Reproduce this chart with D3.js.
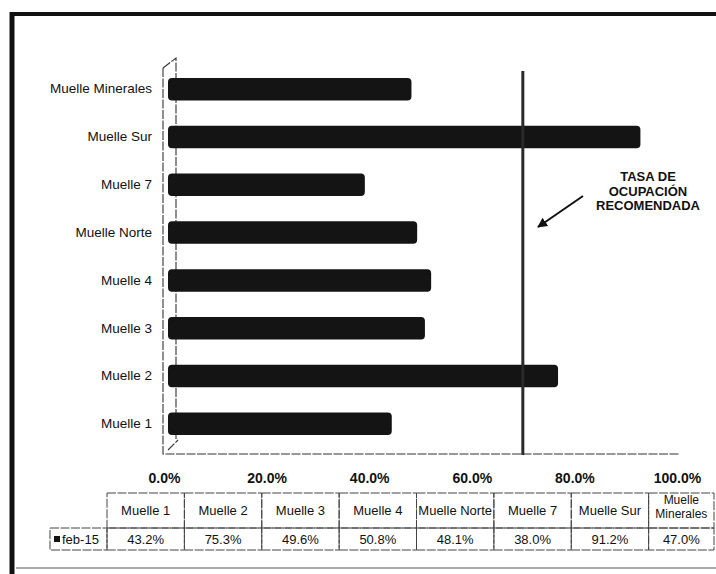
<!DOCTYPE html>
<html>
<head>
<meta charset="utf-8">
<script src="https://cdn.jsdelivr.net/npm/d3@7"></script>
<style>
  html, body { margin: 0; padding: 0; background: #fff; }
  svg { display: block; font-family: "Liberation Sans", Arial, sans-serif; }
</style>
</head>
<body>
<svg id="chart" width="716" height="574"></svg>
<script>
// Occupancy rate per berth, February 2015
const categories = ["Muelle 1", "Muelle 2", "Muelle 3", "Muelle 4", "Muelle Norte", "Muelle 7", "Muelle Sur", "Muelle Minerales"];
const tableHeaders = ["Muelle 1", "Muelle 2", "Muelle 3", "Muelle 4", "Muelle Norte", "Muelle 7", "Muelle Sur", "Muelle\nMinerales"];
const seriesName = "feb-15";
const values = [0.432, 0.753, 0.496, 0.508, 0.481, 0.380, 0.912, 0.470];
const tickValues = [0, 0.2, 0.4, 0.6, 0.8, 1.0];
const recommendedRate = 0.685;
const noteLines = ["TASA DE", "OCUPACIÓN", "RECOMENDADA"];

const svg = d3.select("#chart");
const pct = d3.format(".1%");

// Scales: bars on the front plane, tick labels on the back plane of the 3D plot
const x = d3.scaleLinear().domain([0, 1]).range([168, 686]);
const xTicks = d3.scaleLinear().domain([0, 1]).range([164, 677]);
const y = d3.scaleBand().domain(categories.slice().reverse()).range([65, 448])
  .paddingInner(0.53).paddingOuter(0.27);

// Outer frame
svg.append("line").attr("x1", 10).attr("x2", 716).attr("y1", 14).attr("y2", 14)
  .attr("stroke", "#111").attr("stroke-width", 4);
svg.append("line").attr("x1", 12).attr("x2", 12).attr("y1", 12).attr("y2", 574)
  .attr("stroke", "#111").attr("stroke-width", 5);
svg.append("line").attr("x1", 16).attr("x2", 716).attr("y1", 568).attr("y2", 568)
  .attr("stroke", "#555").attr("stroke-width", 1.2);

// 3D walls / floor outline
const frame = svg.append("g").attr("fill", "none").attr("stroke", "#333").attr("stroke-width", 1.1)
  .attr("stroke-dasharray", "9,1.5");
frame.append("path").attr("d", "M163,68 L176,58 L176,440");
frame.append("path").attr("d", "M163,68 L163,454 L680,454");
frame.append("path").attr("d", "M168,450 L178,440");

// Bars
svg.append("g").selectAll("rect").data(categories).join("rect")
  .attr("x", x(0))
  .attr("y", d => y(d))
  .attr("width", (d, i) => x(values[i]) - x(0))
  .attr("height", y.bandwidth())
  .attr("rx", 4)
  .attr("fill", "#141414");

// Category axis labels
const yAxis = svg.append("g").attr("transform", "translate(152,0)")
  .call(d3.axisLeft(y).tickSize(0).tickPadding(0));
yAxis.select(".domain").remove();
yAxis.selectAll("text").attr("font-size", 13.5).attr("fill", "#111")
  .attr("font-family", "'Liberation Sans', Arial, sans-serif");

// Recommended occupancy line
svg.append("line")
  .attr("x1", x(recommendedRate)).attr("x2", x(recommendedRate))
  .attr("y1", 71).attr("y2", 455)
  .attr("stroke", "#2a2a2a").attr("stroke-width", 3);

// Annotation with arrow
svg.append("defs").append("marker")
  .attr("id", "head").attr("viewBox", "0 0 10 10").attr("refX", 9).attr("refY", 5)
  .attr("markerWidth", 5).attr("markerHeight", 5).attr("orient", "auto")
  .append("path").attr("d", "M0,0 L10,5 L0,10 Z").attr("fill", "#111");
svg.append("line").attr("x1", 583).attr("y1", 196).attr("x2", 538).attr("y2", 227)
  .attr("stroke", "#111").attr("stroke-width", 2).attr("marker-end", "url(#head)");
svg.append("text").attr("x", 648).attr("y", 181).attr("text-anchor", "middle")
  .attr("font-size", 13).attr("font-weight", "bold").attr("fill", "#111")
  .selectAll("tspan").data(noteLines).join("tspan")
  .attr("x", 648).attr("dy", (d, i) => i === 0 ? 0 : 14.5).text(d => d);

// Value axis tick labels
const xAxis = svg.append("g").attr("transform", "translate(0,473)")
  .call(d3.axisBottom(xTicks).tickValues(tickValues).tickFormat(d3.format(".1%")).tickSize(0).tickPadding(0));
xAxis.select(".domain").remove();
xAxis.selectAll("text").attr("font-size", 14).attr("font-weight", "bold").attr("fill", "#111")
  .attr("font-family", "'Liberation Sans', Arial, sans-serif");

// Data table
const colX = d3.scaleBand().domain(categories).range([107, 726]);
const table = svg.append("g").attr("font-size", 13).attr("fill", "#111");
const cellStroke = { stroke: "#444", "stroke-width": 1, "stroke-dasharray": "9,1.5", fill: "none" };
function cell(x0, y0, w, h) {
  const r = table.append("rect").attr("x", x0).attr("y", y0).attr("width", w).attr("height", h);
  Object.entries(cellStroke).forEach(([k, v]) => r.attr(k, v));
}
categories.forEach((c, i) => {
  const x0 = colX(c);
  const w = Math.min(colX.bandwidth(), 714 - x0);
  cell(x0, 493, w, 35);
  cell(x0, 528, w, 22);
  const lines = tableHeaders[i].split("\n");
  const t = table.append("text").attr("text-anchor", "middle").attr("fill", "#111")
    .attr("font-size", lines.length === 1 ? 13 : 12);
  lines.forEach((l, j) => {
    t.append("tspan").attr("x", x0 + w / 2)
      .attr("y", lines.length === 1 ? 515 : 504 + j * 14).text(l);
  });
  table.append("text").attr("x", x0 + w / 2).attr("y", 544).attr("text-anchor", "middle")
    .attr("fill", "#111").text(pct(values[i]));
});
// Legend cell
cell(50, 528, 57, 22);
table.append("rect").attr("x", 54).attr("y", 536).attr("width", 6).attr("height", 6).attr("fill", "#141414");
table.append("text").attr("x", 62).attr("y", 544).attr("fill", "#111").text(seriesName);
</script>
</body>
</html>
